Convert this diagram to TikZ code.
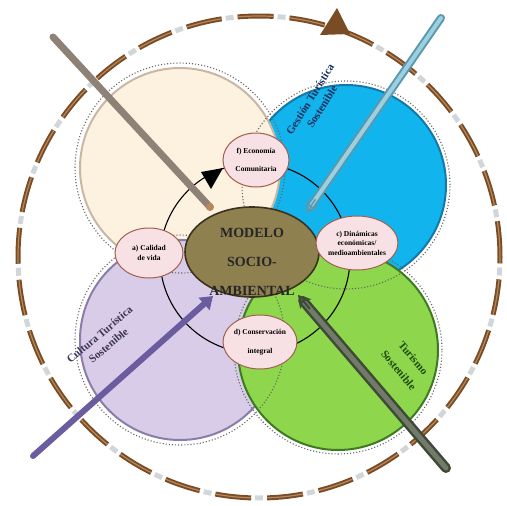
\documentclass[tikz,border=0pt]{standalone}
\usepackage{fontspec}
\setmainfont{Liberation Serif}
\usetikzlibrary{arrows.meta,shapes.geometric,calc}
\definecolor{ringbrown}{HTML}{7A4C26}
\definecolor{ringlight}{HTML}{B8875A}
\definecolor{ringgrey}{HTML}{D2D6D8}
\definecolor{creamfill}{HTML}{FDF1E0}
\definecolor{creamdraw}{HTML}{C9B7A6}
\definecolor{bluefill}{HTML}{12B4EE}
\definecolor{bluedraw}{HTML}{1478A8}
\definecolor{lavfill}{HTML}{D8CCE8}
\definecolor{lavdraw}{HTML}{8A7EA8}
\definecolor{greenfill}{HTML}{8ED64C}
\definecolor{greendraw}{HTML}{3E7A22}
\definecolor{olivefill}{HTML}{8F8050}
\definecolor{olivedraw}{HTML}{3A321C}
\definecolor{pinkfill}{HTML}{F8E1E5}
\definecolor{pinkdraw}{HTML}{A0604E}
\definecolor{greyarrow}{HTML}{8E8276}
\definecolor{bluearrow}{HTML}{5A98AE}
\definecolor{bluearrowin}{HTML}{9CCFDF}
\definecolor{purplearrow}{HTML}{6A5C9E}
\definecolor{darkarrow}{HTML}{3E4A34}
\definecolor{darkarrowin}{HTML}{727A6C}
\definecolor{navytext}{HTML}{1C2E5A}
\definecolor{purpletext}{HTML}{3C3656}
\definecolor{greentext}{HTML}{1E4A10}
\tikzset{
  bigc/.style={circle, inner sep=0pt, minimum size=200pt, line width=2pt},
  dotring/.style={draw=black!60, line width=1.1pt, dotted},
  pinkell/.style={ellipse, inner sep=0pt, fill=pinkfill, draw=pinkdraw, line width=1pt, align=center, font=\fontsize{7.5}{9.5}\selectfont\bfseries},
  circlabel/.style={align=center, font=\fontsize{11}{14}\selectfont\bfseries},
}
\begin{document}
\begin{tikzpicture}[x=1pt,y=-1pt]
\useasboundingbox (0,0) rectangle (507,506);
% outer ring
\coordinate (ringc) at (259,257);
\draw[line width=5pt, ringgrey, dash pattern=on 8pt off 44pt, dash phase=12pt] (ringc) circle[radius=241pt];
\draw[line width=5pt, ringbrown, dash pattern=on 36pt off 16pt] (ringc) circle[radius=241pt];
\draw[line width=1.2pt, ringlight, dash pattern=on 36pt off 16pt] (ringc) circle[radius=241pt];
\fill[ringbrown] (337,8) -- (350,34) -- (320,35) -- cycle;
% big circles
\node[bigc, fill=bluefill, draw=bluedraw] (blue) at (346,185) {};
\node[bigc, fill=creamfill, draw=creamdraw] (cream) at (180,168) {};
\node[bigc, fill=lavfill, draw=lavdraw] (lav) at (180,340) {};
\node[bigc, fill=greenfill, draw=greendraw] (green) at (338,350) {};
\draw[dotring] (blue.center) circle[radius=104pt];
\draw[dotring] (cream.center) circle[radius=105pt];
\draw[dotring] (lav.center) circle[radius=105pt];
\draw[dotring] (green.center) circle[radius=104pt];
% circle labels
\node[circlabel, text=navytext, rotate=58] (lblblue) at (316,103) {Gestión Turística\\Sostenible};
\node[circlabel, text=purpletext, rotate=40] (lbllav) at (104,340) {Cultura Turística\\Sostenible};
\node[circlabel, text=greentext, rotate=-50, font=\fontsize{11}{19}\selectfont\bfseries] (lblgreen) at (406,364) {Turismo\\Sostenible};
% inner cycle
\draw[black, line width=1.1pt] (255,258) circle[radius=95pt];
\fill[black] (201,172) -- (223,168) -- (211,189) -- cycle;
% central model
\node[ellipse, fill=olivefill, draw=olivedraw, line width=1.6pt, minimum width=134pt, minimum height=90pt] (model) at (252,252) {};
\node[align=center, text=black!85, font=\fontsize{14}{29}\selectfont\bfseries] (modeltxt) at (252,262) {MODELO\\SOCIO-\\AMBIENTAL};
% pink ellipses
\node[pinkell, minimum width=66pt, minimum height=54pt] (f) at (256,160) {f) Economía\\[9pt]Comunitaria};
\node[pinkell, minimum width=70pt, minimum height=54pt] (c) at (357,243) {c) Dinámicas\\económicas/\\medioambientales};
\node[pinkell, minimum width=68pt, minimum height=50pt] (a) at (149,253) {a) Calidad\\de vida};
\node[pinkell, minimum width=70pt, minimum height=54pt] (d) at (260,342) {d) Conservación\\[9pt]integral};
% thick arrows
\coordinate (gs) at (53,37);
\coordinate (ge) at (210,207);
\draw[greyarrow, line width=7pt, line cap=round] (gs) -- (ge);
\fill[ringlight] (ge) circle[radius=4pt];
\coordinate (bs) at (441,18);
\coordinate (be) at (306,213);
\draw[bluearrow, line width=8pt, line cap=round, shorten >=8pt] (bs) -- (be);
\draw[bluearrowin, line width=4pt, line cap=round, shorten >=8pt] (bs) -- (be);
\draw[bluearrow, line width=1.5pt, -{Stealth[length=12pt,width=14pt,open]}] ($(bs)!0.93!(be)$) -- (be);
\coordinate (ps) at (33,456);
\coordinate (pe) at (213,296);
\draw[purplearrow, line width=6pt, line cap=round, -{Triangle[length=12pt,width=16pt]}] (ps) -- (pe);
\coordinate (ds) at (446,468);
\coordinate (de) at (298,295);
\draw[darkarrow, line width=10pt, line cap=round, shorten >=8pt] (ds) -- (de);
\draw[darkarrowin, line width=5pt, line cap=round, shorten >=8pt] (ds) -- (de);
\draw[darkarrow, line width=2pt, -{Stealth[length=12pt,width=15pt,open]}] ($(ds)!0.92!(de)$) -- (de);
\end{tikzpicture}
\end{document}
